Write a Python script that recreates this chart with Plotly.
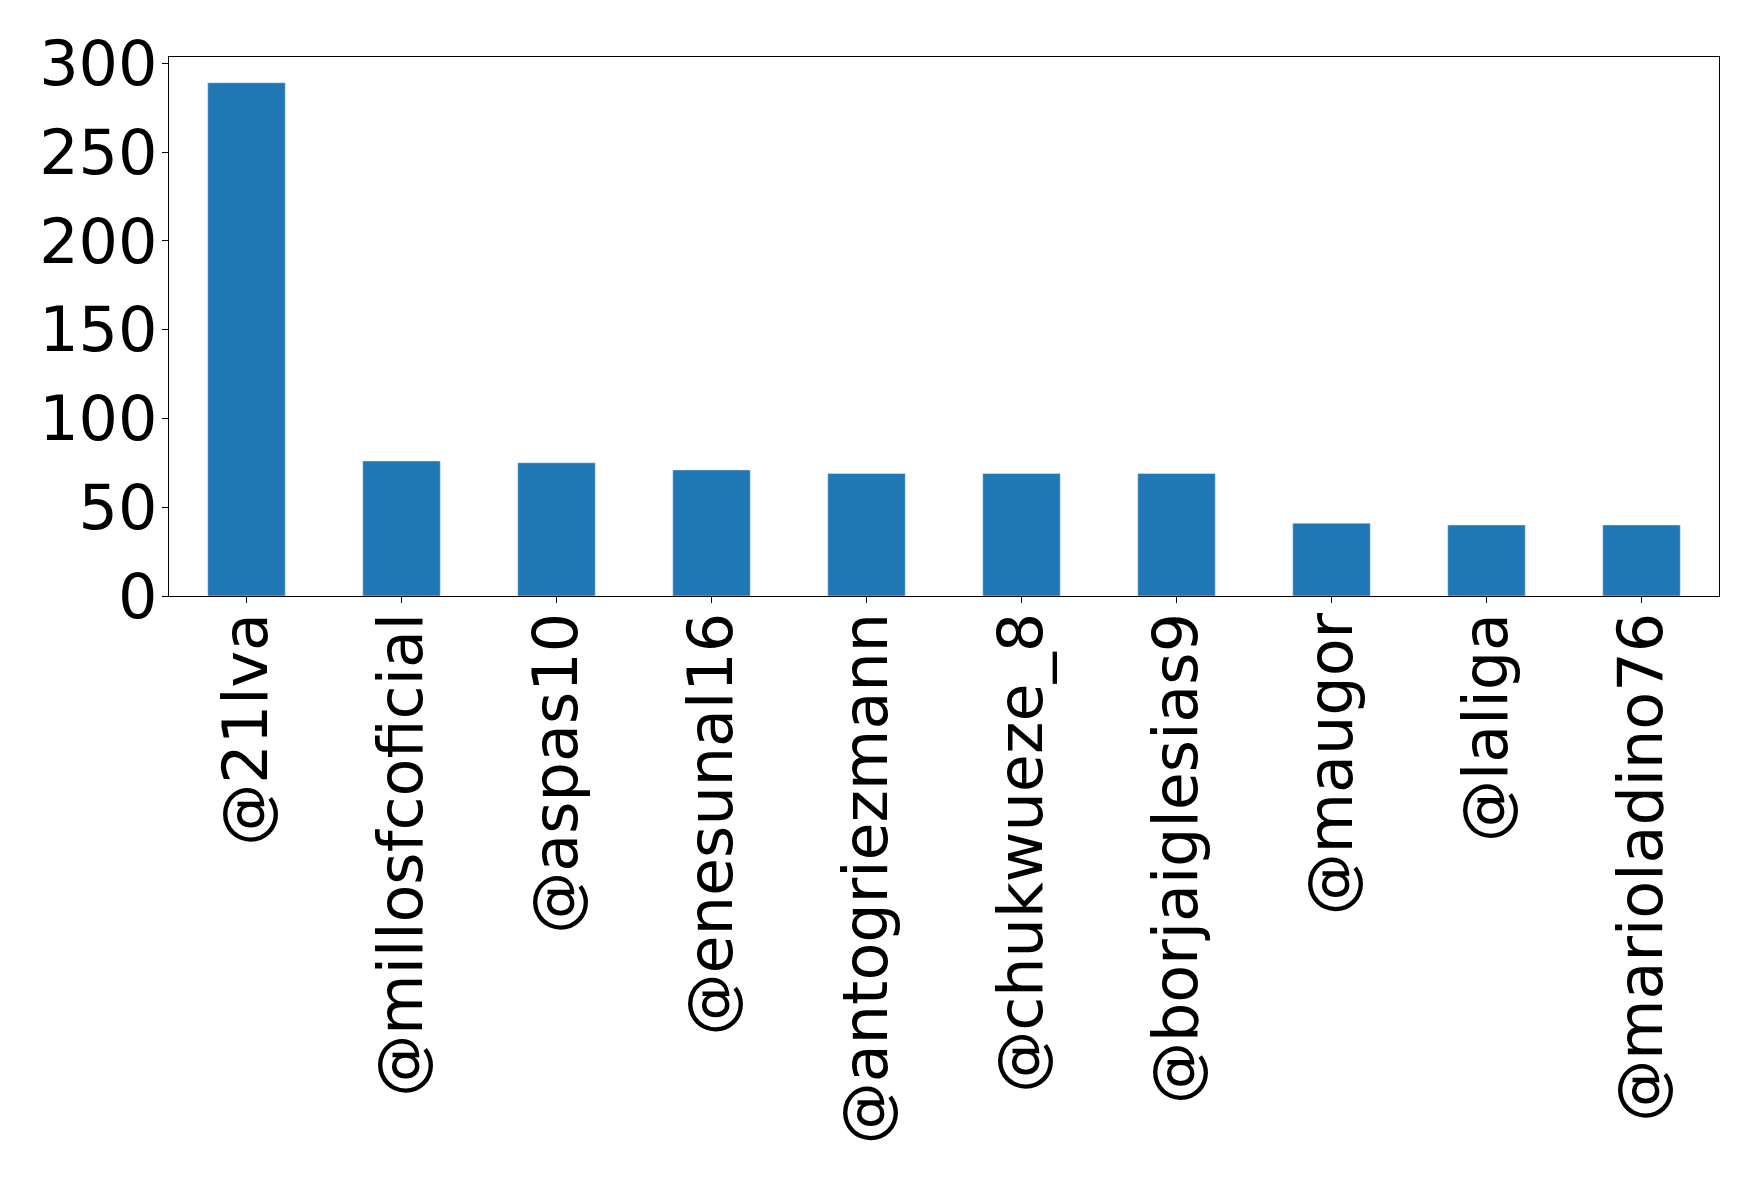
import plotly.graph_objects as go

categories = ["@21lva", "@millosfcoficial", "@aspas10", "@enesunal16", "@antogriezmann",
              "@chukwueze_8", "@borjaiglesias9", "@maugor", "@laliga", "@marioladino76"]
counts = [289, 76, 75, 71, 69, 69, 69, 41, 40, 40]

fig = go.Figure(go.Bar(x=categories, y=counts, marker_color="#1f77b4", width=0.5))

fig.update_layout(
    width=1759, height=1180,
    margin=dict(l=161, r=48, t=49, b=592),
    paper_bgcolor="white", plot_bgcolor="white",
    font=dict(family="DejaVu Sans", size=62, color="black"),
    showlegend=False,
)
fig.update_xaxes(
    type="category", range=[-0.5, 9.5], tickangle=-90,
    showline=True, linecolor="black", linewidth=1.2, mirror=True,
    ticks="outside", ticklen=6, tickwidth=1.2, tickcolor="black",
    showgrid=False, tickfont=dict(size=62), ticklabelstandoff=-15,
)
fig.update_yaxes(
    range=[0, 303.5], tickvals=[0, 50, 100, 150, 200, 250, 300],
    showline=True, linecolor="black", linewidth=1.2, mirror=True,
    ticks="outside", ticklen=6, tickwidth=1.2, tickcolor="black",
    showgrid=False, zeroline=False, tickfont=dict(size=62), ticklabelstandoff=-8,
)
fig.write_html("out.html")
